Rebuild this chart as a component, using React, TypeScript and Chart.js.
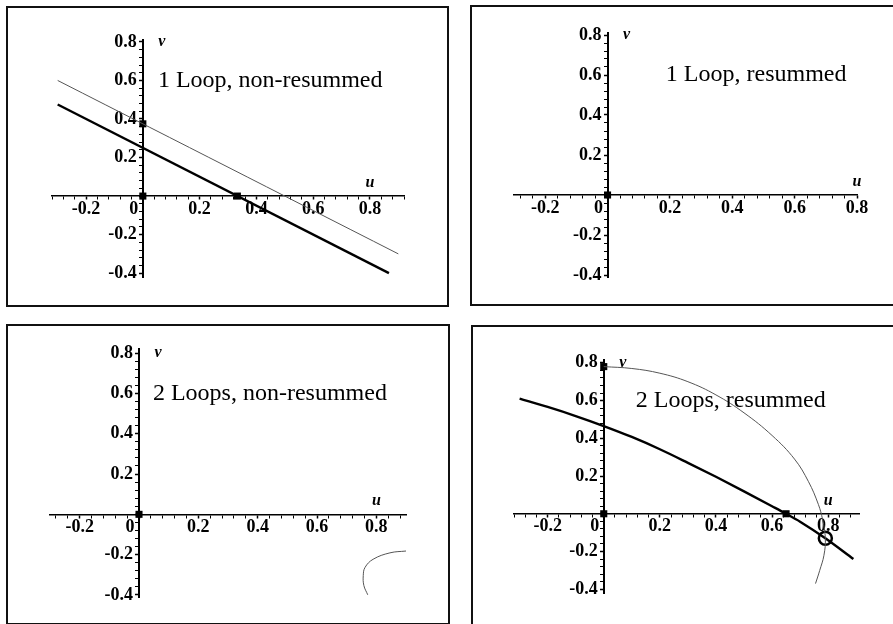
import React, { useEffect, useRef } from "react";
import { Chart, registerables } from "chart.js";

Chart.register(...registerables);

// ---------- tick labels ----------
const xTickValues = [-0.2, 0, 0.2, 0.4, 0.6, 0.8];
const xTickLabels = ["-0.2", "0\u2003", "0.2", "0.4", "0.6", "0.8"];
const yTickValues = [0.8, 0.6, 0.4, 0.2, -0.2, -0.4];
const yTickLabels = ["0.8", "0.6", "0.4", "0.2", "-0.2", "-0.4"];
const minorStep = 0.04;

// ---------- panel 1: 1 Loop, non-resummed ----------
const p1ThinU = [-0.3, 0.9];
const p1ThinV = [0.6, -0.3];
const p1ThickU = [-0.3, 0.867];
const p1ThickV = [0.475, -0.4];
const p1SquareU = [0, 0, 0.333];
const p1SquareV = [0.375, 0, 0];

// ---------- panel 2: 1 Loop, resummed ----------
const p2SquareU = [0];
const p2SquareV = [0];

// ---------- panel 3: 2 Loops, non-resummed ----------
const p3CurveU = [0.9, 0.846, 0.789, 0.762, 0.756, 0.758, 0.771];
const p3CurveV = [-0.182, -0.191, -0.223, -0.263, -0.303, -0.353, -0.399];
const p3SquareU = [0];
const p3SquareV = [0];

// ---------- panel 4: 2 Loops, resummed ----------
const p4ThickU = [-0.3, -0.2, -0.1, 0, 0.1, 0.2, 0.3, 0.4, 0.5, 0.6, 0.65, 0.7, 0.79, 0.89];
const p4ThickV = [0.61, 0.566, 0.518, 0.465, 0.407, 0.342, 0.27, 0.196, 0.119, 0.04, 0, -0.042, -0.13, -0.24];
const p4ThinU = [0, 0.1, 0.2, 0.3, 0.4, 0.5, 0.6, 0.68, 0.73, 0.765, 0.78, 0.79, 0.785, 0.77, 0.755];
const p4ThinV = [0.78, 0.77, 0.745, 0.7, 0.63, 0.535, 0.415, 0.29, 0.17, 0.05, -0.03, -0.13, -0.22, -0.3, -0.37];
const p4SquareU = [0, 0, 0.65];
const p4SquareV = [0.78, 0, 0];
const p4CircleU = [0.79];
const p4CircleV = [-0.13];

type Series = { u: number[]; v: number[]; kind: "thin" | "thick" | "square" | "circle" };

type Panel = {
  title: string;
  titleU: number;
  frame: [number, number, number, number]; // left, top, width, height (outer)
  area: [number, number, number, number]; // left, top, right, bottom (page px)
  xRange: [number, number];
  yRange: [number, number];
  series: Series[];
};

const panels: Panel[] = [
  {
    title: "1 Loop, non-resummed",
    titleU: 0.053,
    frame: [6, 6, 443, 301],
    area: [52, 40, 404, 277],
    xRange: [-0.32, 0.92],
    yRange: [-0.42, 0.81],
    series: [
      { u: p1ThinU, v: p1ThinV, kind: "thin" },
      { u: p1ThickU, v: p1ThickV, kind: "thick" },
      { u: p1SquareU, v: p1SquareV, kind: "square" },
    ],
  },
  {
    title: "1 Loop, resummed",
    titleU: 0.187,
    frame: [470, 5, 440, 301],
    area: [514, 33, 857, 277],
    xRange: [-0.3, 0.8],
    yRange: [-0.41, 0.81],
    series: [{ u: p2SquareU, v: p2SquareV, kind: "square" }],
  },
  {
    title: "2 Loops, non-resummed",
    titleU: 0.047,
    frame: [6, 324, 444, 301],
    area: [50, 349, 406, 597],
    xRange: [-0.3, 0.9],
    yRange: [-0.41, 0.82],
    series: [
      { u: p3CurveU, v: p3CurveV, kind: "thin" },
      { u: p3SquareU, v: p3SquareV, kind: "square" },
    ],
  },
  {
    title: "2 Loops, resummed",
    titleU: 0.114,
    frame: [471, 325, 440, 310],
    area: [514, 360, 859, 593],
    xRange: [-0.32, 0.91],
    yRange: [-0.42, 0.815],
    series: [
      { u: p4ThinU, v: p4ThinV, kind: "thin" },
      { u: p4ThickU, v: p4ThickV, kind: "thick" },
      { u: p4SquareU, v: p4SquareV, kind: "square" },
      { u: p4CircleU, v: p4CircleV, kind: "circle" },
    ],
  },
];

const BORDER = 2;
const SERIF = '"Liberation Serif", "Times New Roman", serif';

function buildTicks(scale: any) {
  const ticks: { value: number }[] = [];
  const start = Math.ceil(scale.min / minorStep - 1e-9);
  const end = Math.floor(scale.max / minorStep + 1e-9);
  for (let k = start; k <= end; k++) ticks.push({ value: +(k * minorStep).toFixed(4) });
  scale.ticks = ticks;
}

function isMajor(v: number) {
  const r = v / 0.2;
  return Math.abs(r - Math.round(r)) < 1e-6;
}

function PanelChart({ panel }: { panel: Panel }) {
  const ref = useRef<HTMLCanvasElement | null>(null);
  const [fl, ft, fw, fh] = panel.frame;
  const cw = fw - 2 * BORDER;
  const ch = fh - 2 * BORDER;
  const cl = fl + BORDER;
  const ct = ft + BORDER;

  useEffect(() => {
    if (!ref.current) return;
    const [al, at, ar, ab] = panel.area;
    const datasets = panel.series.map((s) => {
      const data = s.u.map((u, i) => ({ x: u, y: s.v[i] }));
      if (s.kind === "square") {
        return {
          data,
          showLine: false,
          pointStyle: "rect",
          pointRadius: 5,
          pointBackgroundColor: "#000",
          pointBorderColor: "#000",
          pointBorderWidth: 0,
          clip: false as any,
        };
      }
      if (s.kind === "circle") {
        return {
          data,
          showLine: false,
          pointStyle: "circle",
          pointRadius: 6.5,
          pointBackgroundColor: "#fff",
          pointBorderColor: "#000",
          pointBorderWidth: 2.5,
        };
      }
      if (s.kind === "thick") {
        return {
          data,
          showLine: true,
          pointRadius: 0,
          borderColor: "#000",
          borderWidth: 2.4,
          cubicInterpolationMode: "monotone",
          fill: false,
        };
      }
      return {
        data,
        showLine: true,
        pointRadius: 0,
        borderColor: "#555",
        borderWidth: 1,
        tension: 0.4,
        fill: false,
      };
    });

    const textPlugin = {
      id: "panelText",
      afterDraw(chart: any) {
        const { ctx } = chart;
        const x = chart.scales.x;
        const y = chart.scales.y;
        ctx.save();
        ctx.fillStyle = "#000";
        ctx.font = `24px ${SERIF}`;
        ctx.textAlign = "left";
        ctx.textBaseline = "middle";
        ctx.fillText(panel.title, x.getPixelForValue(panel.titleU), y.getPixelForValue(0.6));
        ctx.font = `italic bold 16px ${SERIF}`;
        ctx.textAlign = "center";
        ctx.fillText("v", x.getPixelForValue(0) + 19, y.getPixelForValue(0.8));
        ctx.fillText("u", x.getPixelForValue(0.8), y.getPixelForValue(0) - 13);
        ctx.restore();
      },
    };

    const tickFont = { family: SERIF, size: 18, weight: "bold" as const, lineHeight: 1 };

    const chart = new Chart(ref.current, {
      type: "scatter",
      data: { datasets: datasets as any },
      options: {
        animation: false,
        responsive: false,
        devicePixelRatio: 1,
        events: [],
        layout: {
          padding: {
            left: al - cl,
            top: at - ct,
            right: cl + cw - ar,
            bottom: ct + ch - ab,
          },
        },
        plugins: { legend: { display: false }, tooltip: { enabled: false } },
        scales: {
          x: {
            type: "linear",
            position: { y: 0 } as any,
            min: panel.xRange[0],
            max: panel.xRange[1],
            afterBuildTicks: buildTicks,
            afterFit: (s: any) => {
              s.height = 0;
            },
            border: { display: true, color: "#000", width: 1.5 },
            grid: {
              drawOnChartArea: false,
              drawTicks: true,
              tickLength: 3,
              color: "#000",
              tickColor: "#000",
              tickWidth: (c: any) => (c.tick && isMajor(c.tick.value) ? 1.5 : 1),
            },
            ticks: {
              autoSkip: false,
              maxRotation: 0,
              minRotation: 0,
              padding: 1,
              color: "#000",
              font: tickFont,
              callback: (val: any) => {
                const i = xTickValues.findIndex((t) => Math.abs(t - Number(val)) < 1e-6);
                return i >= 0 ? xTickLabels[i] : "";
              },
            },
          },
          y: {
            type: "linear",
            position: { x: 0 } as any,
            min: panel.yRange[0],
            max: panel.yRange[1],
            afterBuildTicks: buildTicks,
            afterFit: (s: any) => {
              s.width = 0;
            },
            border: { display: true, color: "#000", width: 2 },
            grid: {
              drawOnChartArea: false,
              drawTicks: true,
              tickLength: 3,
              color: "#000",
              tickColor: "#000",
              tickWidth: (c: any) => (c.tick && isMajor(c.tick.value) ? 1.5 : 1),
            },
            ticks: {
              autoSkip: false,
              padding: 4,
              color: "#000",
              font: tickFont,
              callback: (val: any) => {
                const i = yTickValues.findIndex((t) => Math.abs(t - Number(val)) < 1e-6);
                return i >= 0 ? yTickLabels[i] + "\u2004" : "";
              },
            },
          },
        },
      },
      plugins: [textPlugin],
    });
    return () => chart.destroy();
  }, [panel]);

  return (
    <div
      style={{
        position: "absolute",
        left: fl,
        top: ft,
        width: fw,
        height: fh,
        boxSizing: "border-box",
        border: `${BORDER}px solid #111`,
        background: "#fff",
      }}
    >
      <canvas ref={ref} width={cw} height={ch} style={{ display: "block", width: cw, height: ch }} />
    </div>
  );
}

export default function App() {
  return (
    <div
      style={{
        position: "absolute",
        left: 0,
        top: 0,
        width: 893,
        height: 624,
        overflow: "hidden",
        background: "#fff",
      }}
    >
      {panels.map((p, i) => (
        <PanelChart key={i} panel={p} />
      ))}
    </div>
  );
}
